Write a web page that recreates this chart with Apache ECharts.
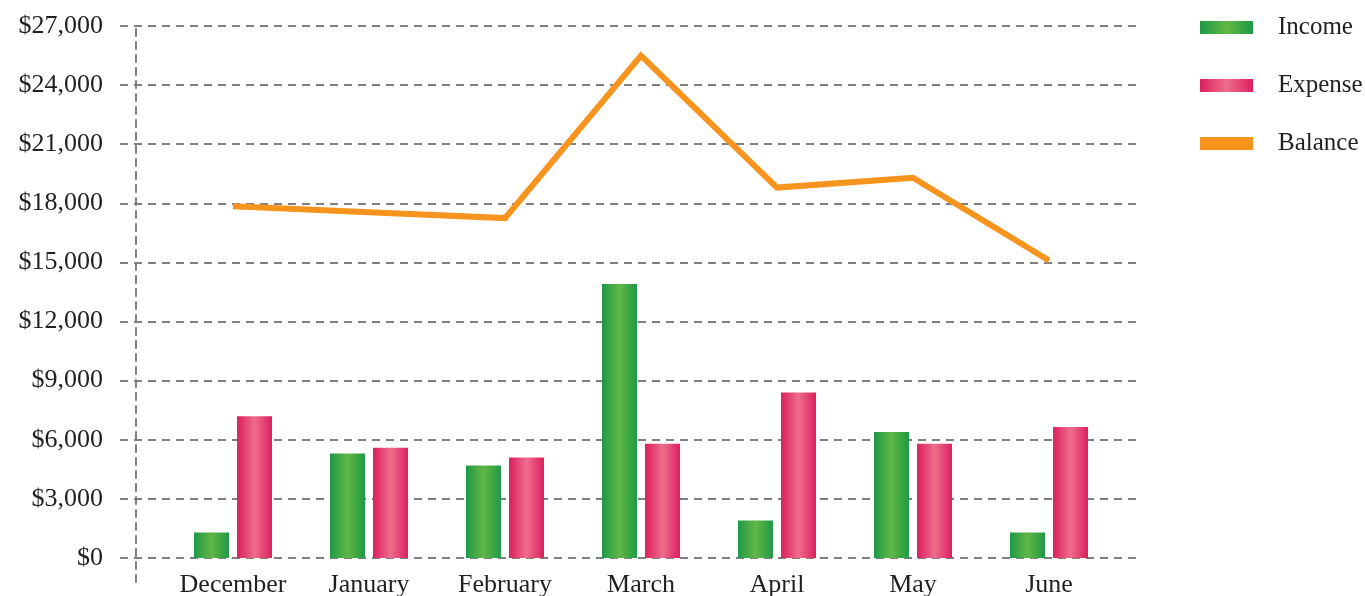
<!DOCTYPE html>
<html>
<head>
<meta charset="utf-8">
<script src="https://cdn.jsdelivr.net/npm/echarts@6/dist/echarts.min.js"></script>
<style>html,body{margin:0;padding:0;background:#fff;}#c{width:1365px;height:596px;}</style>
</head>
<body>
<div id="c"></div>
<script>
var categories = ['December', 'January', 'February', 'March', 'April', 'May', 'June'];
var income = [1300, 5300, 4700, 13900, 1900, 6400, 1300];
var expense = [7200, 5600, 5100, 5800, 8400, 5800, 6650];
var balance = [17850, 17550, 17250, 25500, 18800, 19300, 15100];
var yMin = 0, yMax = 27000, yStep = 3000;

var FONT = 'Liberation Serif';
var TXT = '#231f20';
var gridDash = { color: '#808080', width: 2, type: [8, 6] };

function hGrad(edge, mid) {
  return { type: 'linear', x: 0, y: 0, x2: 1, y2: 0,
    colorStops: [{ offset: 0, color: edge }, { offset: 0.5, color: mid }, { offset: 1, color: edge }] };
}

var chart = echarts.init(document.getElementById('c'), null, { renderer: 'canvas' });
chart.setOption({
  animation: false,
  backgroundColor: '#fff',
  textStyle: { fontFamily: FONT },
  legend: {
    orient: 'vertical', left: 1195, top: 10,
    itemWidth: 53, itemHeight: 13, itemGap: 33,
    icon: 'rect',
    textStyle: { fontFamily: FONT, fontSize: 25, color: TXT, lineHeight: 25, padding: [0, 0, 0, 20] },
    data: ['Income', 'Expense', 'Balance']
  },
  grid: [
    { left: 120, right: 228, top: 26, bottom: 38, outerBoundsMode: 'none', containLabel: false },
    { left: 136, right: 228, top: 26, bottom: 14, outerBoundsMode: 'none', containLabel: false },
    { left: 165, width: 952, top: 26, bottom: 38, outerBoundsMode: 'none', containLabel: false }
  ],
  xAxis: [
    { gridIndex: 0, type: 'value', show: false },
    { gridIndex: 1, type: 'value', show: false },
    { gridIndex: 2, type: 'category', data: categories, boundaryGap: true,
      axisLine: { show: false }, axisTick: { show: false },
      axisLabel: { fontFamily: FONT, fontSize: 26, color: TXT, margin: 14, interval: 0, hideOverlap: false } }
  ],
  yAxis: [
    { gridIndex: 0, type: 'value', min: yMin, max: yMax, interval: yStep,
      axisLine: { show: false }, axisTick: { show: false },
      splitLine: { show: true, lineStyle: gridDash },
      axisLabel: { fontFamily: FONT, fontSize: 26, color: TXT, margin: 17,
        formatter: function (v) { return '$' + v.toLocaleString('en-US'); } } },
    { gridIndex: 1, type: 'value', min: 0, max: 1,
      axisLine: { show: true, lineStyle: { color: '#808080', width: 2, type: [7, 6] } },
      axisTick: { show: false }, axisLabel: { show: false }, splitLine: { show: false } },
    { gridIndex: 2, type: 'value', min: yMin, max: yMax, show: false, splitLine: { show: false } }
  ],
  series: [
    { name: 'Income', type: 'bar', xAxisIndex: 2, yAxisIndex: 2, data: income,
      barWidth: 35, barGap: '23%',
      itemStyle: { color: hGrad('#1e9946', '#62b745') } },
    { name: 'Expense', type: 'bar', xAxisIndex: 2, yAxisIndex: 2, data: expense,
      barWidth: 35,
      itemStyle: { color: hGrad('#dc1f5f', '#ee6d8c') } },
    { name: 'Balance', type: 'line', xAxisIndex: 2, yAxisIndex: 2, data: balance,
      showSymbol: false, symbol: 'none',
      itemStyle: { color: '#f7941d' },
      lineStyle: { color: '#f7941d', width: 6, join: 'miter' } }
  ]
});
</script>
</body>
</html>
